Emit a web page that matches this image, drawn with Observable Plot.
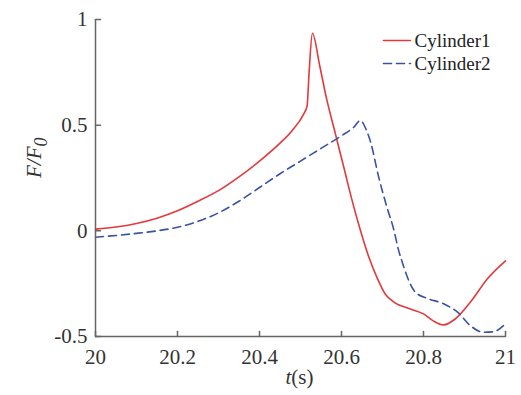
<!DOCTYPE html>
<html>
<head>
<meta charset="utf-8">
<script src="https://cdn.jsdelivr.net/npm/d3@7"></script>
<script src="https://cdn.jsdelivr.net/npm/@observablehq/plot@0.6"></script>
<style>
  body { margin: 0; background: #fff; }
  #chart { position: relative; width: 521px; height: 395px; }
  #chart svg text { font-family: "Liberation Serif", "Times New Roman", serif; }
</style>
</head>
<body>
<div id="chart"></div>
<script>
const seriesNames = ["Cylinder1", "Cylinder2"];
const t1 = [20.00, 20.05, 20.10, 20.15, 20.20, 20.25, 20.30, 20.35, 20.40, 20.45, 20.48, 20.507, 20.516, 20.521, 20.529, 20.547, 20.563, 20.585, 20.607, 20.625, 20.645, 20.666, 20.688, 20.707, 20.727, 20.768, 20.80, 20.824, 20.849, 20.878, 20.915, 20.956, 21.00];
const f1 = [0.008, 0.018, 0.035, 0.06, 0.095, 0.14, 0.19, 0.255, 0.33, 0.415, 0.475, 0.55, 0.59, 0.75, 0.935, 0.78, 0.63, 0.46, 0.29, 0.15, 0.01, -0.12, -0.227, -0.3, -0.336, -0.37, -0.393, -0.426, -0.445, -0.416, -0.336, -0.227, -0.142];
const t2 = [20.00, 20.05, 20.10, 20.15, 20.20, 20.25, 20.30, 20.35, 20.40, 20.45, 20.50, 20.55, 20.60, 20.63, 20.646, 20.66, 20.671, 20.69, 20.712, 20.727, 20.739, 20.751, 20.765, 20.78, 20.81, 20.849, 20.883, 20.915, 20.946, 20.97, 21.00];
const f2 = [-0.03, -0.022, -0.012, 0.0, 0.017, 0.045, 0.085, 0.14, 0.205, 0.27, 0.33, 0.39, 0.45, 0.49, 0.522, 0.48, 0.42, 0.26, 0.104, 0.01, -0.09, -0.165, -0.24, -0.29, -0.32, -0.345, -0.385, -0.45, -0.48, -0.478, -0.44];
const xTicks = [20, 20.2, 20.4, 20.6, 20.8, 21];
const yTicks = [-0.5, 0, 0.5, 1];
const xLabel = "t(s)";
const yLabel = "F/F0";

const colors = ["#e4393c", "#3953a4"];
const data1 = t1.map((t, i) => ({t, f: f1[i], s: seriesNames[0]}));
const data2 = t2.map((t, i) => ({t, f: f2[i], s: seriesNames[1]}));

const axisColor = "#666";
const font = "Liberation Serif";

const tickShape = { draw(ctx, l) { ctx.moveTo(0, 0); ctx.lineTo(0, -l); } };
const legShape = { draw(ctx, l) { ctx.moveTo(0, 0); ctx.lineTo(l, 0); } };

const chart = Plot.plot({
  width: 521,
  height: 395,
  marginLeft: 95,
  marginRight: 16,
  marginTop: 19,
  marginBottom: 59,
  style: { fontFamily: font, background: "#fff", overflow: "visible" },
  x: { domain: [20, 21], axis: null },
  y: { domain: [-0.5, 1], axis: null },
  marks: [
    Plot.line(data1, { x: "t", y: "f", stroke: colors[0], strokeWidth: 1.6, curve: "monotone-x" }),
    Plot.line(data2, { x: "t", y: "f", stroke: colors[1], strokeWidth: 1.6, strokeDasharray: "8,5", curve: "monotone-x" }),
    Plot.ruleX([20], { y1: -0.5, y2: 1, stroke: axisColor, strokeWidth: 1.5 }),
    Plot.ruleY([-0.5], { x1: 20, x2: 21, stroke: axisColor, strokeWidth: 1.5 }),
    Plot.vector(xTicks, { x: d => d, y: -0.5, length: 5, rotate: 0, anchor: "start", shape: tickShape, stroke: axisColor, strokeWidth: 1.5 }),
    Plot.vector(yTicks, { x: 20, y: d => d, length: 5, rotate: 90, anchor: "start", shape: tickShape, stroke: axisColor, strokeWidth: 1.5 }),
    Plot.text(xTicks, { x: d => d, y: -0.5, text: d => String(d), dy: 21, fontSize: 21, fontFamily: font, fill: "#333", textAnchor: "middle" }),
    Plot.text(yTicks, { x: 20, y: d => d, text: d => String(d), dx: -8, fontSize: 21, fontFamily: font, fill: "#333", textAnchor: "end" }),
    Plot.text([xLabel], { frameAnchor: "bottom", dy: 47, dx: -1, fontSize: 21, fontFamily: font, fill: "#333", text: d => d }),
    Plot.text([yLabel], { frameAnchor: "left", dx: -61, dy: 0, rotate: -90, fontSize: 21, fontFamily: font, fill: "#333", text: d => d }),
    // legend
    Plot.vector([0], { frameAnchor: "top-left", dx: 288, dy: 21, length: 27, rotate: 0, anchor: "start", shape: legShape, stroke: colors[0], strokeWidth: 1.6 }),
    Plot.vector([1], { frameAnchor: "top-left", dx: 288, dy: 44, length: 27, rotate: 0, anchor: "start", shape: legShape, stroke: colors[1], strokeWidth: 1.6, strokeDasharray: "8,5" }),
    Plot.text([seriesNames[0]], { frameAnchor: "top-left", dx: 319, dy: 21, text: d => d, textAnchor: "start", lineAnchor: "middle", fontSize: 19, fontFamily: font, fill: "#222" }),
    Plot.text([seriesNames[1]], { frameAnchor: "top-left", dx: 319, dy: 44, text: d => d, textAnchor: "start", lineAnchor: "middle", fontSize: 19, fontFamily: font, fill: "#222" })
  ]
});

// style labels: italic parts and subscript
d3.select(chart).selectAll("text").each(function() {
  const el = d3.select(this);
  const txt = this.textContent;
  if (txt === yLabel) {
    el.text(null);
    el.append("tspan").attr("font-style", "italic").text("F/F");
    el.append("tspan").attr("font-style", "italic").attr("dy", "0.3em").attr("font-size", "0.85em").text("0");
  } else if (txt === xLabel) {
    el.text(null);
    el.append("tspan").attr("font-style", "italic").text("t");
    el.append("tspan").text("(s)");
  }
});

document.getElementById("chart").appendChild(chart);
</script>
</body>
</html>
